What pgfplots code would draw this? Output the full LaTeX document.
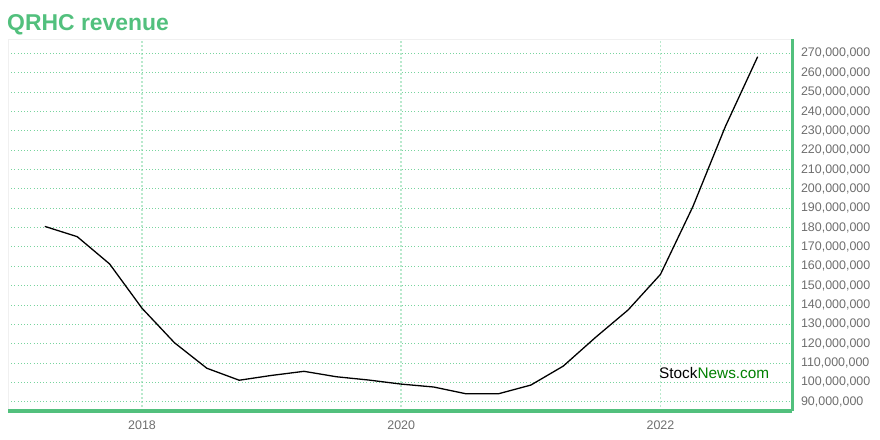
\documentclass[border=0pt]{standalone}
\usepackage{pgfplots}
\pgfplotsset{compat=1.18}
\usepackage{fontspec}
\setmainfont{Liberation Sans}
\definecolor{qgreen}{RGB}{82,192,125}
\definecolor{gridgreen}{RGB}{120,212,158}
\definecolor{vgridgreen}{RGB}{185,233,205}
\definecolor{ticklab}{RGB}{110,110,110}
\definecolor{sngreen}{RGB}{0,128,0}

\pgfplotstableread{
x        y
2017.25  180.6
2017.50  175.3
2017.75  161.2
2018.00  138.3
2018.25  120.5
2018.50  107.3
2018.75  101.1
2019.00  103.6
2019.25  105.7
2019.50  102.9
2019.75  101.2
2020.00  99.1
2020.25  97.6
2020.50  94.1
2020.75  94.1
2021.00  98.6
2021.25  108.4
2021.50  123.3
2021.75  137.4
2022.00  155.8
2022.25  190.8
2022.50  232.1
2022.75  268.3
}\revenue

\begin{document}
\begin{tikzpicture}
\useasboundingbox (0,0) rectangle (880bp,440bp);
\node[anchor=base west, inner sep=0, text=qgreen, font=\fontsize{23}{27}\selectfont\bfseries] at (7bp,409bp) {QRHC revenue};
\begin{axis}[
  at={(8bp,29bp)}, anchor=south west,
  width=784bp, height=371.7bp, scale only axis,
  xmin=2016.966, xmax=2023.015,
  ymin=85.2, ymax=277.3,
  clip=false,
  axis line style={draw=none},
  xtick={2018,2020,2022},
  xticklabels={2018,2020,2022},
  ytick={90,100,...,270},
  /pgf/number format/assume math mode=true,
  yticklabel={\pgfmathprintnumber[int detect]{\tick},000,000},
  yticklabel pos=right,
  major tick length=0pt,
  yticklabel style={anchor=west, xshift=5.5bp, text=ticklab, font=\fontsize{12.5}{15}\selectfont},
  xticklabel style={yshift=-6bp, text=ticklab, font=\fontsize{12.5}{15}\selectfont},
  xmajorgrids, ymajorgrids,
  x grid style={vgridgreen, line width=1.6bp, dash pattern=on 1.5bp off 2.5bp},
  y grid style={gridgreen, line width=0.9bp, dash pattern=on 1bp off 2.2bp},
]
\draw[gray!12, line width=1bp] (rel axis cs:0,0) |- (rel axis cs:1,1);
\addplot[black, line width=1.3bp] table[x=x, y=y] {\revenue};
\draw[qgreen, line width=3bp] (rel axis cs:0,0) -- (rel axis cs:1,0);
\draw[qgreen, line width=3bp] (rel axis cs:1,0) -- (rel axis cs:1,1);
\end{axis}
\node[anchor=base west, inner sep=0, font=\fontsize{15.4}{18}\selectfont] at (659bp,61.7bp) {Stock\textcolor{sngreen}{News.com}};
\end{tikzpicture}
\end{document}
